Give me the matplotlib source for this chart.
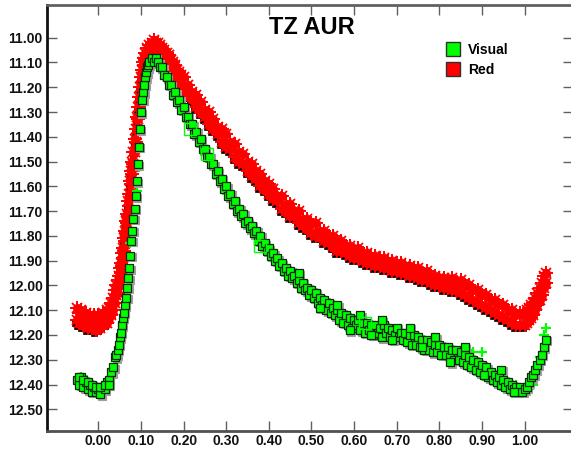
import matplotlib
matplotlib.use("Agg")
import matplotlib.pyplot as plt
import matplotlib.transforms as mtransforms
from matplotlib.lines import Line2D

# ---------------- data ----------------
title = "TZ AUR"
series_names = ["Visual", "Red"]

x_ticks = [0.0, 0.1, 0.2, 0.3, 0.4, 0.5, 0.6, 0.7, 0.8, 0.9, 1.0]
x_tick_labels = ["0.00", "0.10", "0.20", "0.30", "0.40", "0.50", "0.60", "0.70", "0.80", "0.90", "1.00"]
y_ticks = [11.0, 11.1, 11.2, 11.3, 11.4, 11.5, 11.6, 11.7, 11.8, 11.9, 12.0, 12.1, 12.2, 12.3, 12.4, 12.5]
y_tick_labels = ["11.00", "11.10", "11.20", "11.30", "11.40", "11.50", "11.60", "11.70", "11.80",
                 "11.90", "12.00", "12.10", "12.20", "12.30", "12.40", "12.50"]

# Visual (green squares)
vis_phase = [
    -0.050, -0.045, -0.040, -0.035, -0.030, -0.025, -0.020, -0.015, -0.010, -0.005,
    0.000, 0.005, 0.010, 0.015, 0.020, 0.025, 0.030, 0.035, 0.040,
    -0.045, -0.035, -0.025, -0.015, -0.005, 0.005, 0.015, 0.025,
    0.0425, 0.045, 0.0475, 0.050, 0.0525, 0.055, 0.0575, 0.060, 0.0625, 0.065,
    0.0675, 0.070, 0.0725, 0.075, 0.0775, 0.080, 0.0825, 0.085, 0.0875, 0.090,
    0.0925, 0.095, 0.0975, 0.100, 0.1025, 0.105, 0.1075, 0.110, 0.1125, 0.115,
    0.1175, 0.120,
    0.125, 0.130, 0.135, 0.140, 0.145, 0.150, 0.155, 0.160, 0.165, 0.170,
    0.175, 0.180, 0.185, 0.190, 0.195, 0.200, 0.205, 0.210, 0.215, 0.220,
    0.225, 0.230, 0.235, 0.240, 0.245, 0.250, 0.255, 0.260, 0.265, 0.270,
    0.275, 0.280, 0.285, 0.290, 0.295, 0.300, 0.305, 0.310, 0.315, 0.320,
    0.325, 0.330, 0.335, 0.340, 0.345, 0.350, 0.355, 0.360, 0.365, 0.370,
    0.375, 0.380, 0.385, 0.390, 0.395, 0.400, 0.405, 0.410, 0.415, 0.420,
    0.425, 0.430, 0.435, 0.440, 0.445, 0.450, 0.455, 0.460, 0.465, 0.470,
    0.475, 0.480, 0.485, 0.490, 0.495, 0.500, 0.505, 0.510, 0.515, 0.520,
    0.525, 0.530, 0.535, 0.540, 0.545, 0.550, 0.555, 0.560, 0.565, 0.570,
    0.575, 0.580, 0.585, 0.590, 0.595, 0.600, 0.605, 0.610, 0.615, 0.620,
    0.625, 0.630, 0.635, 0.640, 0.645, 0.650, 0.655, 0.660, 0.665, 0.670,
    0.675, 0.680, 0.685, 0.690, 0.695, 0.700, 0.705, 0.710, 0.715, 0.720,
    0.725, 0.730, 0.735, 0.740, 0.745, 0.750, 0.755, 0.760, 0.765, 0.770,
    0.775, 0.780, 0.785, 0.790, 0.795, 0.800, 0.805, 0.810, 0.815, 0.820,
    0.825, 0.830, 0.835, 0.840, 0.845, 0.850, 0.855, 0.860, 0.865, 0.870,
    0.875, 0.880, 0.885, 0.890, 0.895, 0.900, 0.905, 0.910, 0.915, 0.920,
    0.925, 0.930, 0.935, 0.940, 0.945, 0.950, 0.955, 0.960, 0.965, 0.970,
    0.975, 0.980, 0.985, 0.990, 0.995, 1.000, 1.005, 1.010, 1.015, 1.020,
    1.025, 1.030, 1.035, 1.040, 1.045, 1.050,
    0.470, 0.520, 0.560, 0.590, 0.615, 0.640, 0.665, 0.690, 0.730, 0.760,
    0.790, 0.825, 0.860, 0.905, 0.945, 0.975,
]
vis_mag = [
    12.38, 12.40, 12.37, 12.41, 12.39, 12.42, 12.40, 12.43, 12.41, 12.43,
    12.42, 12.44, 12.41, 12.42, 12.39, 12.38, 12.35, 12.33, 12.29,
    12.37, 12.38, 12.39, 12.40, 12.41, 12.41, 12.40, 12.40,
    12.28, 12.26, 12.24, 12.21, 12.19, 12.16, 12.13, 12.11, 12.08, 12.05,
    12.01, 11.97, 11.93, 11.88, 11.82, 11.78, 11.73, 11.69, 11.64, 11.58,
    11.51, 11.44, 11.37, 11.30, 11.25, 11.22, 11.19, 11.16, 11.14, 11.12,
    11.11, 11.10,
    11.08, 11.10, 11.08, 11.10, 11.12, 11.12, 11.15, 11.16, 11.19, 11.19,
    11.23, 11.22, 11.26, 11.25, 11.29, 11.28, 11.32, 11.32, 11.35, 11.35,
    11.39, 11.38, 11.42, 11.41, 11.45, 11.45, 11.48, 11.48, 11.51, 11.51,
    11.55, 11.54, 11.58, 11.57, 11.61, 11.60, 11.64, 11.63, 11.67, 11.66,
    11.70, 11.69, 11.72, 11.71, 11.75, 11.74, 11.77, 11.76, 11.79, 11.78,
    11.82, 11.80, 11.84, 11.83, 11.86, 11.85, 11.88, 11.87, 11.90, 11.89,
    11.92, 11.91, 11.94, 11.93, 11.96, 11.94, 11.97, 11.96, 11.99, 11.98,
    12.01, 11.99, 12.02, 12.01, 12.04, 12.02, 12.05, 12.03, 12.07, 12.05,
    12.08, 12.06, 12.10, 12.07, 12.11, 12.09, 12.12, 12.10, 12.14, 12.11,
    12.15, 12.12, 12.16, 12.13, 12.17, 12.14, 12.16, 12.14, 12.18, 12.15,
    12.19, 12.15, 12.18, 12.16, 12.20, 12.16, 12.19, 12.17, 12.21, 12.16,
    12.19, 12.17, 12.21, 12.18, 12.20, 12.17, 12.21, 12.19, 12.22, 12.19,
    12.23, 12.20, 12.24, 12.20, 12.24, 12.21, 12.25, 12.22, 12.26, 12.22,
    12.26, 12.23, 12.27, 12.24, 12.27, 12.24, 12.28, 12.25, 12.28, 12.25,
    12.29, 12.26, 12.30, 12.26, 12.30, 12.27, 12.31, 12.28, 12.32, 12.29,
    12.33, 12.30, 12.34, 12.31, 12.35, 12.32, 12.36, 12.33, 12.37, 12.35,
    12.38, 12.36, 12.39, 12.37, 12.40, 12.38, 12.41, 12.39, 12.42, 12.40,
    12.42, 12.41, 12.43, 12.41, 12.43, 12.42, 12.41, 12.39, 12.37, 12.36,
    12.34, 12.32, 12.30, 12.28, 12.25, 12.22,
    11.95, 12.09, 12.08, 12.18, 12.12, 12.20, 12.14, 12.22, 12.17, 12.25,
    12.21, 12.31, 12.25, 12.36, 12.34, 12.43,
]

# Visual extra points drawn as "+" and as hollow markers
vis_plus_phase = [-0.040, 0.010, 0.030, 0.040, 0.060, 0.075, 0.090, 0.095, 0.850, 0.870,
                  0.880, 0.900, 0.950, 0.980, 1.020, 1.030, 1.035, 1.045, 1.050]
vis_plus_mag = [12.37, 12.43, 12.37, 12.33, 12.12, 11.83, 11.62, 11.52, 12.30, 12.26,
                12.27, 12.27, 12.36, 12.40, 12.40, 12.33, 12.29, 12.20, 12.17]
vis_open_phase = [0.215, 0.255, 0.380, 0.625]
vis_open_mag = [11.37, 11.47, 11.84, 12.15]

# Red (red asterisks), two rows (brighter / fainter edge of the scatter band)
red_phase = [
    -0.050, -0.045, -0.040, -0.035, -0.030, -0.025, -0.020, -0.015, -0.010, -0.005,
    0.000, 0.005, 0.010, 0.015, 0.020, 0.025, 0.030, 0.035, 0.040,
    0.0425, 0.045, 0.0475, 0.050, 0.0525, 0.055, 0.0575, 0.060, 0.0625, 0.065,
    0.0675, 0.070, 0.0725, 0.075, 0.0775, 0.080, 0.0825, 0.085, 0.0875, 0.090,
    0.0925, 0.095, 0.0975, 0.100, 0.1025, 0.105, 0.1075,
    0.110, 0.115, 0.120, 0.125, 0.130, 0.135, 0.140, 0.145, 0.150, 0.155,
    0.160, 0.165, 0.170, 0.175, 0.180, 0.185, 0.190, 0.195, 0.200,
    0.21, 0.22, 0.23, 0.24, 0.25, 0.26, 0.27, 0.28, 0.29, 0.30,
    0.31, 0.32, 0.33, 0.34, 0.35, 0.36, 0.37, 0.38, 0.39, 0.40,
    0.41, 0.42, 0.43, 0.44, 0.45, 0.46, 0.47, 0.48, 0.49, 0.50,
    0.51, 0.52, 0.53, 0.54, 0.55, 0.56, 0.57, 0.58, 0.59, 0.60,
    0.61, 0.62, 0.63, 0.64, 0.65, 0.66, 0.67, 0.68, 0.69, 0.70,
    0.71, 0.72, 0.73, 0.74, 0.75, 0.76, 0.77, 0.78, 0.79, 0.80,
    0.81, 0.82, 0.83, 0.84, 0.85, 0.86, 0.87, 0.88, 0.89, 0.90,
    0.91, 0.92, 0.93, 0.94, 0.95, 0.96, 0.97, 0.98, 0.99, 1.00,
    1.005, 1.010, 1.015, 1.020, 1.025, 1.030, 1.035, 1.040, 1.045, 1.050,
]
red_bright = [
    12.09, 12.11, 12.10, 12.12, 12.11, 12.13, 12.12, 12.13, 12.12, 12.14,
    12.12, 12.13, 12.11, 12.12, 12.10, 12.09, 12.07, 12.05, 12.02,
    12.00, 11.98, 11.96, 11.93, 11.91, 11.87, 11.85, 11.81, 11.78, 11.74,
    11.71, 11.66, 11.63, 11.58, 11.54, 11.50, 11.46, 11.41, 11.37, 11.32,
    11.28, 11.24, 11.20, 11.16, 11.13, 11.10, 11.08,
    11.06, 11.04, 11.03, 11.02, 11.01, 11.02, 11.02, 11.03, 11.04, 11.05,
    11.06, 11.07, 11.09, 11.10, 11.11, 11.13, 11.14, 11.15, 11.16,
    11.19, 11.22, 11.23, 11.26, 11.29, 11.30, 11.33, 11.36, 11.37, 11.39,
    11.42, 11.43, 11.46, 11.47, 11.50, 11.51, 11.54, 11.55, 11.58, 11.59,
    11.61, 11.64, 11.64, 11.67, 11.67, 11.70, 11.70, 11.73, 11.73, 11.75,
    11.75, 11.78, 11.78, 11.80, 11.80, 11.82, 11.82, 11.84, 11.84, 11.86,
    11.85, 11.87, 11.87, 11.88, 11.88, 11.89, 11.89, 11.90, 11.90, 11.91,
    11.91, 11.92, 11.92, 11.93, 11.93, 11.95, 11.94, 11.96, 11.96, 11.97,
    11.97, 11.98, 11.97, 11.99, 11.98, 12.00, 12.00, 12.02, 12.02, 12.04,
    12.04, 12.06, 12.06, 12.08, 12.08, 12.10, 12.10, 12.12, 12.11, 12.12,
    12.10, 12.09, 12.08, 12.07, 12.05, 12.03, 12.01, 11.99, 11.96, 11.95,
]
red_faint = [
    12.14, 12.15, 12.15, 12.16, 12.16, 12.17, 12.16, 12.17, 12.17, 12.18,
    12.17, 12.17, 12.16, 12.15, 12.15, 12.13, 12.12, 12.10, 12.07,
    12.04, 12.03, 12.00, 11.98, 11.95, 11.92, 11.89, 11.86, 11.82, 11.79,
    11.75, 11.72, 11.68, 11.63, 11.59, 11.55, 11.51, 11.46, 11.42, 11.37,
    11.33, 11.28, 11.24, 11.20, 11.16, 11.13, 11.11,
    11.09, 11.07, 11.06, 11.05, 11.05, 11.05, 11.06, 11.07, 11.08, 11.09,
    11.10, 11.11, 11.13, 11.14, 11.16, 11.17, 11.18, 11.19, 11.21,
    11.23, 11.25, 11.28, 11.30, 11.32, 11.35, 11.37, 11.39, 11.42, 11.44,
    11.45, 11.48, 11.50, 11.51, 11.54, 11.56, 11.57, 11.60, 11.61, 11.63,
    11.65, 11.66, 11.69, 11.70, 11.72, 11.72, 11.75, 11.76, 11.77, 11.79,
    11.80, 11.80, 11.82, 11.83, 11.84, 11.86, 11.86, 11.87, 11.88, 11.89,
    11.89, 11.90, 11.91, 11.91, 11.92, 11.92, 11.93, 11.93, 11.94, 11.94,
    11.95, 11.95, 11.96, 11.96, 11.97, 11.98, 11.98, 11.99, 12.00, 12.00,
    12.01, 12.01, 12.02, 12.02, 12.03, 12.04, 12.05, 12.06, 12.07, 12.08,
    12.09, 12.10, 12.11, 12.12, 12.13, 12.14, 12.15, 12.16, 12.16, 12.16,
    12.15, 12.14, 12.13, 12.12, 12.10, 12.08, 12.06, 12.04, 12.01, 11.99,
]

# ---------------- figure ----------------
plt.rcParams['font.family'] = ['Liberation Sans', 'DejaVu Sans']

W, H = 571, 449
fig = plt.figure(figsize=(W / 100, H / 100), dpi=100)
ax = fig.add_axes([46.7 / W, 18 / H, (573 - 46.7) / W, 426 / H])

green = '#00ff00'
red = '#ff0000'

shadow_g = mtransforms.offset_copy(ax.transData, fig=fig, x=1.5, y=-1.5, units='dots')
shadow_r = mtransforms.offset_copy(ax.transData, fig=fig, x=-2.0, y=-3.0, units='dots')

# red series with dark underlay (visible only at the edges of the band)
ax.plot(red_phase, red_faint, ls='none', marker='s', ms=5, mfc='black', mec='black',
        mew=0.5, transform=shadow_r, zorder=2)
for mags in (red_bright, red_faint):
    ax.plot(red_phase, mags, ls='none', marker='o', ms=6.5, mfc=red, mec='none', zorder=3)
    ax.plot(red_phase, mags, ls='none', marker='+', ms=9.5, mec=red, mew=1.4, zorder=3)
    ax.plot(red_phase, mags, ls='none', marker='x', ms=7.5, mec=red, mew=1.3, zorder=3)

# visual series
ax.plot(vis_plus_phase, vis_plus_mag, ls='none', marker='+', ms=7, mec=green, mew=1.6, zorder=4)
ax.plot(vis_phase, vis_mag, ls='none', marker='s', ms=5.8, mfc='#a0a0a0', mec='#a0a0a0',
        mew=0.8, transform=shadow_g, zorder=4)
ax.plot(vis_phase, vis_mag, ls='none', marker='s', ms=5.8, mfc=green, mec='#0a2a0a',
        mew=0.9, zorder=5)
ax.plot(vis_open_phase, vis_open_mag, ls='none', marker='s', ms=8, mfc='none', mec=green,
        mew=1.0, zorder=5)

ax.set_xlim(-0.1211, 1.1135)
ax.set_ylim(12.5876, 10.868)

ax.set_xticks(x_ticks)
ax.set_xticklabels(x_tick_labels)
ax.set_yticks(y_ticks)
ax.set_yticklabels(y_tick_labels)
ax.tick_params(direction='in', length=7, width=1, color='#606060',
               top=True, right=True, labelsize=10, pad=3)
ax.tick_params(axis='x', pad=2.5)
for lab in ax.get_xticklabels() + ax.get_yticklabels():
    lab.set_fontweight('bold')
    lab.set_color('#111111')

ax.spines['left'].set_color('#111111')
ax.spines['left'].set_linewidth(2)
ax.spines['bottom'].set_color('#505050')
ax.spines['bottom'].set_linewidth(2)
ax.spines['top'].set_color('#606060')
ax.spines['top'].set_linewidth(2)
ax.spines['right'].set_visible(False)

fig.text(311.5 / W, 1 - 28 / H, title, ha='center', va='center',
         fontsize=17, fontweight='bold', color='black')

handles = [
    Line2D([], [], ls='none', marker='s', ms=10, mfc=green, mec='#303030', mew=1.0),
    Line2D([], [], ls='none', marker='s', ms=10, mfc=red, mec='#303030', mew=1.0),
]
leg = fig.legend(handles, series_names, loc='upper left',
                 bbox_to_anchor=(446 / W, 1 - 43 / H), frameon=False,
                 borderpad=0, borderaxespad=0, handlelength=1.0,
                 handletextpad=0.6, labelspacing=0.45,
                 prop={'weight': 'bold', 'size': 10})

fig.savefig('out.png', dpi=100)
